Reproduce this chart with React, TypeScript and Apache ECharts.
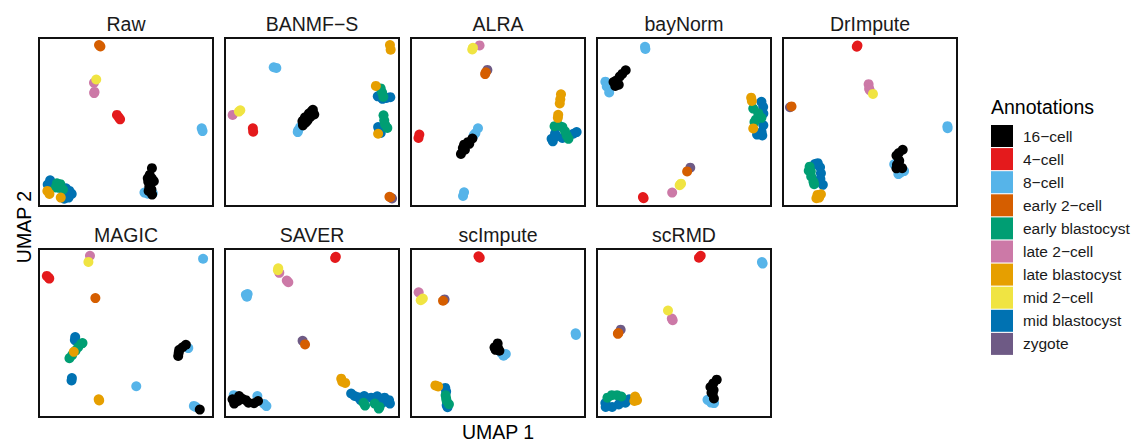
import React, { useEffect, useRef } from "react";
import * as echarts from "echarts";

const ANNOTATIONS = ["16−cell", "4−cell", "8−cell", "early 2−cell", "early blastocyst", "late 2−cell", "late blastocyst", "mid 2−cell", "mid blastocyst", "zygote"];
const COLORS: Record<string, string> = {
  "16−cell": "#000000",
  "4−cell": "#E41A1C",
  "8−cell": "#56B4E9",
  "early 2−cell": "#D55E00",
  "early blastocyst": "#009E73",
  "late 2−cell": "#CC79A7",
  "late blastocyst": "#E69F00",
  "mid 2−cell": "#F0E442",
  "mid blastocyst": "#0072B2",
  "zygote": "#6E5A85",
};
// drawing order (later drawn on top)
const DRAW_ORDER = ["8−cell", "16−cell", "4−cell", "zygote", "early 2−cell", "late 2−cell", "mid 2−cell", "mid blastocyst", "early blastocyst", "late blastocyst"];

const PANEL_TITLES = ["Raw", "BANMF−S", "ALRA", "bayNorm", "DrImpute", "MAGIC", "SAVER", "scImpute", "scRMD"];

type P = [string, number, number];

const RAW: P[] = [
  ["early 2−cell", 34.5, 95.8], ["early 2−cell", 35.3, 95.0],
  ["mid 2−cell", 32.9, 75.3],
  ["late 2−cell", 31.6, 73.3], ["late 2−cell", 31.9, 67.9], ["late 2−cell", 31.7, 67.2],
  ["4−cell", 44.8, 54.2], ["4−cell", 45.8, 52.8], ["4−cell", 46.6, 51.6],
  ["8−cell", 93.5, 46.3], ["8−cell", 94.0, 44.6],
  ["16−cell", 64.9, 22.5], ["16−cell", 63.6, 18.5], ["16−cell", 64.8, 16.5], ["16−cell", 62.8, 14.5], ["16−cell", 64.2, 13.5], ["16−cell", 63.4, 11.5], ["16−cell", 64.6, 9.8], ["16−cell", 65.0, 6.8],
  ["16−cell", 62.5, 16.5], ["16−cell", 66.0, 14.8], ["16−cell", 63.0, 9.0],
  ["8−cell", 60.6, 8.0], ["8−cell", 62.5, 7.3], ["8−cell", 65.4, 7.6],
  ["mid blastocyst", 6.4, 15.3], ["mid blastocyst", 5.0, 12.8], ["mid blastocyst", 15.5, 10.5], ["mid blastocyst", 17.5, 9.0], ["mid blastocyst", 18.8, 7.2], ["mid blastocyst", 17.0, 5.0], ["mid blastocyst", 14.5, 4.3],
  ["early blastocyst", 10.3, 13.5], ["early blastocyst", 12.3, 13.0], ["early blastocyst", 11.5, 10.8], ["early blastocyst", 13.8, 9.8], ["early blastocyst", 9.5, 11.0],
  ["late blastocyst", 4.8, 9.0], ["late blastocyst", 6.0, 7.2], ["late blastocyst", 12.5, 5.0],
];

const BANMF: P[] = [
  ["late blastocyst", 94.8, 95.8], ["late blastocyst", 95.2, 93.0],
  ["8−cell", 28.0, 82.6], ["8−cell", 29.5, 82.2],
  ["late blastocyst", 86.7, 71.5],
  ["early blastocyst", 89.5, 70.0], ["early blastocyst", 90.3, 67.5], ["early blastocyst", 91.0, 65.0],
  ["mid blastocyst", 87.8, 65.3], ["mid blastocyst", 92.8, 64.3], ["mid blastocyst", 95.0, 64.8], ["mid blastocyst", 90.5, 63.8],
  ["early blastocyst", 91.1, 54.0], ["early blastocyst", 91.5, 51.0], ["early blastocyst", 92.0, 48.5], ["early blastocyst", 93.3, 46.5],
  ["mid blastocyst", 88.0, 47.0], ["mid blastocyst", 88.5, 44.8], ["mid blastocyst", 89.5, 43.5],
  ["late blastocyst", 88.0, 43.0],
  ["late 2−cell", 4.4, 54.2],
  ["mid 2−cell", 8.0, 56.2], ["mid 2−cell", 8.8, 57.0],
  ["4−cell", 16.0, 46.3], ["4−cell", 16.2, 44.2],
  ["8−cell", 42.0, 45.0], ["8−cell", 43.2, 47.0], ["8−cell", 41.8, 44.0],
  ["16−cell", 44.5, 50.5], ["16−cell", 46.0, 52.8], ["16−cell", 48.2, 55.0], ["16−cell", 50.5, 57.3], ["16−cell", 46.5, 49.8], ["16−cell", 51.3, 54.5], ["16−cell", 44.8, 48.0], ["16−cell", 49.0, 53.0],
  ["16−cell", 47.5, 51.0], ["16−cell", 49.5, 56.0], ["16−cell", 45.5, 51.5],
  ["zygote", 96.0, 4.5],
  ["early 2−cell", 95.0, 5.2], ["early 2−cell", 94.5, 5.5],
];

const ALRA: P[] = [
  ["mid 2−cell", 35.6, 94.2], ["mid 2−cell", 35.2, 93.2],
  ["late 2−cell", 39.4, 95.6],
  ["zygote", 43.9, 81.0],
  ["early 2−cell", 43.0, 79.6], ["early 2−cell", 42.6, 78.5],
  ["late blastocyst", 86.2, 66.5], ["late blastocyst", 85.8, 63.5], ["late blastocyst", 85.5, 61.0], ["late blastocyst", 84.6, 54.3], ["late blastocyst", 84.4, 52.5],
  ["early blastocyst", 84.8, 48.0], ["early blastocyst", 87.0, 47.0], ["early blastocyst", 88.5, 44.5], ["early blastocyst", 89.5, 42.0], ["early blastocyst", 90.5, 40.0], ["early blastocyst", 82.5, 47.5],
  ["mid blastocyst", 80.8, 40.0], ["mid blastocyst", 82.8, 43.2], ["mid blastocyst", 95.2, 44.0], ["mid blastocyst", 93.3, 43.0], ["mid blastocyst", 81.5, 38.5], ["mid blastocyst", 87.0, 40.5], ["mid blastocyst", 83.5, 41.5],
  ["4−cell", 4.8, 42.5], ["4−cell", 4.3, 40.5],
  ["8−cell", 38.5, 46.3], ["8−cell", 37.0, 43.3], ["8−cell", 36.0, 42.0],
  ["16−cell", 28.7, 31.0], ["16−cell", 29.8, 34.5], ["16−cell", 30.5, 36.5], ["16−cell", 32.7, 38.0], ["16−cell", 35.3, 40.2], ["16−cell", 31.0, 33.5], ["16−cell", 33.5, 37.0],
  ["8−cell", 29.9, 6.0], ["8−cell", 30.5, 8.2],
];

const BAYNORM: P[] = [
  ["8−cell", 27.6, 94.8], ["8−cell", 27.8, 93.5],
  ["16−cell", 16.5, 80.8], ["16−cell", 14.5, 78.6], ["16−cell", 13.0, 77.0], ["16−cell", 11.0, 74.6], ["16−cell", 12.5, 72.2], ["16−cell", 9.5, 73.8], ["16−cell", 10.5, 71.5],
  ["8−cell", 4.8, 74.0], ["8−cell", 5.6, 71.2], ["8−cell", 7.0, 67.6],
  ["late blastocyst", 88.6, 64.5], ["late blastocyst", 89.0, 62.5], ["late blastocyst", 89.8, 46.2],
  ["mid blastocyst", 94.5, 62.0], ["mid blastocyst", 95.5, 59.0], ["mid blastocyst", 95.6, 55.0], ["mid blastocyst", 95.6, 48.0], ["mid blastocyst", 94.6, 44.0], ["mid blastocyst", 92.0, 42.5], ["mid blastocyst", 95.0, 42.0],
  ["early blastocyst", 89.8, 58.0], ["early blastocyst", 92.7, 55.2], ["early blastocyst", 91.3, 51.5], ["early blastocyst", 94.5, 52.5], ["early blastocyst", 90.5, 50.0],
  ["zygote", 53.6, 22.8],
  ["early 2−cell", 51.8, 20.6],
  ["mid 2−cell", 47.5, 12.4], ["mid 2−cell", 48.3, 13.3],
  ["late 2−cell", 43.2, 8.0],
  ["4−cell", 26.4, 5.3], ["4−cell", 26.8, 4.6],
];

const DRIMPUTE: P[] = [
  ["4−cell", 42.4, 94.8], ["4−cell", 42.8, 95.5],
  ["late 2−cell", 49.2, 72.5], ["late 2−cell", 49.5, 70.0], ["late 2−cell", 49.8, 69.0],
  ["mid 2−cell", 51.7, 66.7],
  ["zygote", 4.0, 58.8],
  ["early 2−cell", 4.9, 59.3],
  ["8−cell", 94.5, 47.5], ["8−cell", 94.6, 46.3],
  ["16−cell", 68.8, 33.5], ["16−cell", 66.5, 31.5], ["16−cell", 65.2, 30.0], ["16−cell", 66.8, 27.0], ["16−cell", 65.5, 24.5], ["16−cell", 65.2, 22.4], ["16−cell", 68.5, 22.5], ["16−cell", 66.5, 25.8],
  ["8−cell", 63.9, 24.8], ["8−cell", 66.3, 19.0], ["8−cell", 69.6, 20.8], ["8−cell", 67.5, 19.8],
  ["mid blastocyst", 20.0, 25.5], ["mid blastocyst", 21.3, 23.0], ["mid blastocyst", 21.8, 19.5], ["mid blastocyst", 21.5, 16.0], ["mid blastocyst", 22.9, 12.6], ["mid blastocyst", 18.3, 25.0],
  ["early blastocyst", 15.3, 23.4], ["early blastocyst", 16.0, 20.5], ["early blastocyst", 16.2, 17.6], ["early blastocyst", 17.5, 14.5], ["early blastocyst", 17.9, 13.0], ["early blastocyst", 14.8, 21.0],
  ["late blastocyst", 19.8, 6.6], ["late blastocyst", 21.8, 7.0], ["late blastocyst", 19.2, 4.6], ["late blastocyst", 20.8, 5.0],
];

const MAGIC: P[] = [
  ["late 2−cell", 29.3, 96.0],
  ["mid 2−cell", 28.4, 92.3],
  ["8−cell", 94.3, 94.2],
  ["4−cell", 4.5, 84.0], ["4−cell", 5.5, 83.0], ["4−cell", 5.9, 82.4],
  ["early 2−cell", 32.4, 70.8],
  ["mid blastocyst", 20.8, 47.6], ["mid blastocyst", 20.6, 45.8],
  ["early blastocyst", 24.3, 43.6], ["early blastocyst", 22.5, 41.5], ["early blastocyst", 21.0, 39.5], ["early blastocyst", 19.0, 36.8], ["early blastocyst", 17.5, 35.0], ["early blastocyst", 25.0, 44.0],
  ["late blastocyst", 20.0, 38.8],
  ["mid blastocyst", 18.9, 23.2], ["mid blastocyst", 18.7, 21.8],
  ["8−cell", 55.9, 18.3],
  ["late blastocyst", 34.3, 10.5], ["late blastocyst", 34.6, 9.8],
  ["16−cell", 84.4, 43.0], ["16−cell", 82.5, 41.5], ["16−cell", 80.6, 40.0], ["16−cell", 80.3, 38.2], ["16−cell", 80.0, 36.3],
  ["8−cell", 85.8, 41.0],
  ["8−cell", 89.0, 6.6], ["8−cell", 90.0, 6.0],
  ["16−cell", 92.4, 4.4],
];

const SAVER: P[] = [
  ["4−cell", 63.3, 94.7], ["4−cell", 63.7, 95.4],
  ["mid 2−cell", 30.6, 88.5], ["mid 2−cell", 30.4, 87.4],
  ["late 2−cell", 31.2, 85.8], ["late 2−cell", 35.5, 81.2], ["late 2−cell", 36.4, 80.2],
  ["8−cell", 12.0, 72.7], ["8−cell", 13.0, 73.2], ["8−cell", 12.6, 71.6],
  ["zygote", 44.6, 45.4],
  ["early 2−cell", 46.0, 43.2],
  ["late blastocyst", 66.8, 22.8], ["late blastocyst", 67.4, 21.0], ["late blastocyst", 69.1, 20.3],
  ["mid blastocyst", 72.5, 14.0], ["mid blastocyst", 74.5, 12.5], ["mid blastocyst", 76.5, 11.8], ["mid blastocyst", 80.0, 12.5], ["mid blastocyst", 84.0, 11.5], ["mid blastocyst", 87.5, 12.3], ["mid blastocyst", 91.7, 11.5], ["mid blastocyst", 94.3, 10.0], ["mid blastocyst", 94.8, 8.0], ["mid blastocyst", 90.5, 8.5], ["mid blastocyst", 78.0, 10.0],
  ["early blastocyst", 79.6, 8.5], ["early blastocyst", 80.5, 6.8], ["early blastocyst", 86.0, 8.0], ["early blastocyst", 88.8, 6.0], ["early blastocyst", 88.4, 5.0],
  ["8−cell", 5.0, 13.0], ["8−cell", 18.6, 12.5], ["8−cell", 22.5, 7.8], ["8−cell", 23.8, 6.5],
  ["16−cell", 5.3, 8.0], ["16−cell", 4.3, 10.5], ["16−cell", 8.1, 12.5], ["16−cell", 7.5, 9.5], ["16−cell", 10.0, 10.8], ["16−cell", 12.0, 10.0], ["16−cell", 16.7, 8.2], ["16−cell", 19.0, 9.5], ["16−cell", 13.5, 8.5],
];

const SCIMPUTE: P[] = [
  ["4−cell", 38.8, 95.7], ["4−cell", 39.5, 94.8],
  ["late 2−cell", 4.4, 74.2],
  ["mid 2−cell", 6.8, 70.5], ["mid 2−cell", 5.6, 69.5],
  ["zygote", 19.3, 70.0],
  ["early 2−cell", 18.4, 69.2],
  ["8−cell", 94.6, 49.8], ["8−cell", 94.8, 48.8],
  ["16−cell", 49.8, 43.8], ["16−cell", 48.0, 41.4], ["16−cell", 50.0, 41.0], ["16−cell", 50.8, 39.5], ["16−cell", 48.6, 40.0],
  ["8−cell", 52.0, 38.0], ["8−cell", 54.5, 37.5], ["8−cell", 53.2, 36.5],
  ["late blastocyst", 14.0, 18.8], ["late blastocyst", 15.6, 18.2],
  ["mid blastocyst", 19.7, 17.3], ["mid blastocyst", 20.2, 15.2], ["mid blastocyst", 21.0, 5.8], ["mid blastocyst", 20.5, 7.0],
  ["early blastocyst", 19.9, 13.0], ["early blastocyst", 20.2, 11.0], ["early blastocyst", 21.8, 7.6], ["early blastocyst", 20.5, 9.5],
];

const SCRMD: P[] = [
  ["4−cell", 59.6, 96.0], ["4−cell", 58.6, 94.8],
  ["8−cell", 94.8, 92.2], ["8−cell", 95.2, 91.3],
  ["mid 2−cell", 40.8, 63.4],
  ["late 2−cell", 43.0, 58.6], ["late 2−cell", 43.5, 57.6],
  ["zygote", 13.6, 52.0],
  ["early 2−cell", 12.3, 50.0], ["early 2−cell", 12.0, 49.5],
  ["16−cell", 68.8, 22.2], ["16−cell", 66.8, 20.0], ["16−cell", 65.2, 17.8], ["16−cell", 67.0, 16.0], ["16−cell", 66.5, 13.8], ["16−cell", 67.2, 11.0], ["16−cell", 65.8, 14.5],
  ["8−cell", 63.5, 10.2], ["8−cell", 65.5, 8.6], ["8−cell", 67.3, 8.3],
  ["early blastocyst", 8.5, 13.0], ["early blastocyst", 11.5, 13.0], ["early blastocyst", 14.0, 12.2], ["early blastocyst", 6.0, 11.5],
  ["mid blastocyst", 4.8, 8.3], ["mid blastocyst", 8.7, 6.0], ["mid blastocyst", 12.5, 7.5], ["mid blastocyst", 16.3, 8.5], ["mid blastocyst", 18.5, 10.5], ["mid blastocyst", 5.0, 6.0],
  ["late blastocyst", 21.9, 12.2], ["late blastocyst", 23.0, 10.0], ["late blastocyst", 21.5, 9.5],
];

const PANELS: P[][] = [RAW, BANMF, ALRA, BAYNORM, DRIMPUTE, MAGIC, SAVER, SCIMPUTE, SCRMD];

const FONT = "'Liberation Sans', Arial, Helvetica, sans-serif";

export default function App() {
  const ref = useRef<HTMLDivElement>(null);
  useEffect(() => {
    if (!ref.current) return;
    const chart = echarts.init(ref.current, undefined, { renderer: "svg" });
    const PW = 174, PH = 168, STEP = 186, LEFT0 = 39;
    const TOPS = [38, 249];
    const grids: any[] = [], xAxes: any[] = [], yAxes: any[] = [], series: any[] = [], graphics: any[] = [];
    PANELS.forEach((pts, i) => {
      const row = Math.floor(i / 5), col = i % 5;
      const left = LEFT0 + col * STEP, top = TOPS[row];
      grids.push({ left, top, width: PW, height: PH, show: true, borderColor: "#111", borderWidth: 2, backgroundColor: "#fff", containLabel: false });
      xAxes.push({ type: "value", gridIndex: i, min: 0, max: 100, show: false });
      yAxes.push({ type: "value", gridIndex: i, min: 0, max: 100, show: false });
      DRAW_ORDER.forEach((name) => {
        const d = pts.filter((p) => p[0] === name).map((p) => [p[1], p[2]]);
        series.push({
          type: "scatter", name, xAxisIndex: i, yAxisIndex: i, data: d, symbolSize: 10,
          itemStyle: { color: COLORS[name], opacity: 1 }, silent: true, z: 2,
        });
      });
      graphics.push({
        type: "text", x: left + PW / 2, y: top - 14,
        style: { text: PANEL_TITLES[i], textAlign: "center", textVerticalAlign: "middle", fontSize: 19.5, fontFamily: FONT, fill: "#1a1a1a" },
      });
    });
    graphics.push({ type: "text", x: 498, y: 432, style: { text: "UMAP 1", textAlign: "center", textVerticalAlign: "middle", fontSize: 19.5, fontFamily: FONT, fill: "#000" } });
    graphics.push({ type: "text", x: 24, y: 227, rotation: Math.PI / 2, style: { text: "UMAP 2", textAlign: "center", textVerticalAlign: "middle", fontSize: 19.5, fontFamily: FONT, fill: "#000" } });
    graphics.push({ type: "text", x: 991, y: 107, style: { text: "Annotations", textAlign: "left", textVerticalAlign: "middle", fontSize: 19.5, fontFamily: FONT, fill: "#000" } });

    chart.setOption({
      animation: false,
      backgroundColor: "#fff",
      grid: grids,
      xAxis: xAxes,
      yAxis: yAxes,
      series,
      graphic: graphics,
      legend: {
        data: ANNOTATIONS.map((n) => ({ name: n, icon: "rect", itemStyle: { color: COLORS[n] } })),
        orient: "vertical", left: 991, top: 125, itemWidth: 22, itemHeight: 22, itemGap: 1.1,
        selectedMode: false, padding: 0,
        textStyle: { fontSize: 15.5, fontFamily: FONT, color: "#1a1a1a", padding: [0, 0, 0, 5] },
      },
    });
    return () => chart.dispose();
  }, []);
  return <div ref={ref} style={{ position: "fixed", left: 0, top: 0, width: 1138, height: 444 }} />;
}
